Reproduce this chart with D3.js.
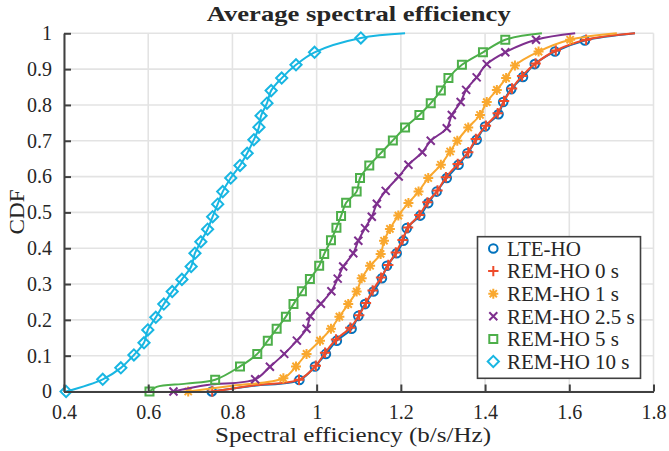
<!DOCTYPE html>
<html><head><meta charset="utf-8">
<script src="https://cdn.jsdelivr.net/npm/d3@7"></script>
<style>
html,body{margin:0;padding:0;background:#fff;}
svg text{font-family:'Liberation Serif','Times New Roman',Tinos,Times,serif;fill:#262626;}
</style></head>
<body>
<svg id="chart" width="669" height="451"></svg>
<script>
// ---- data (x = spectral efficiency, y = CDF, m = 1 if a marker sits on the point) ----
const xTicks = [0.4, 0.6, 0.8, 1, 1.2, 1.4, 1.6, 1.8];
const yTicks = [0, 0.1, 0.2, 0.3, 0.4, 0.5, 0.6, 0.7, 0.8, 0.9, 1];
const seriesNames = ["LTE-HO", "REM-HO 0 s", "REM-HO 1 s", "REM-HO 2.5 s", "REM-HO 5 s", "REM-HO 10 s"];

const lteHO = [[0.751,0,1],[0.85,0.016,0],[0.959,0.032,1],[0.996,0.070,1],[1.022,0.105,1],[1.048,0.142,1],[1.083,0.175,1],[1.099,0.211,1],[1.115,0.244,1],[1.135,0.279,1],[1.155,0.316,1],[1.167,0.351,1],[1.190,0.386,1],[1.206,0.421,1],[1.214,0.456,1],[1.246,0.491,1],[1.265,0.526,1],[1.285,0.558,1],[1.309,0.596,1],[1.337,0.633,1],[1.358,0.665,1],[1.380,0.703,1],[1.400,0.740,1],[1.432,0.774,1],[1.443,0.808,1],[1.462,0.844,1],[1.490,0.878,1],[1.518,0.914,1],[1.566,0.949,1],[1.637,0.980,1],[1.756,1.0,0]];
const remHO0 = [[0.752,0,1],[0.85,0.017,0],[0.958,0.033,1],[0.998,0.072,1],[1.020,0.108,1],[1.046,0.145,1],[1.080,0.178,1],[1.101,0.213,1],[1.117,0.247,1],[1.133,0.282,1],[1.153,0.318,1],[1.170,0.353,1],[1.188,0.388,1],[1.204,0.423,1],[1.217,0.458,1],[1.244,0.493,1],[1.263,0.528,1],[1.287,0.561,1],[1.307,0.598,1],[1.335,0.635,1],[1.360,0.668,1],[1.378,0.705,1],[1.402,0.742,1],[1.430,0.777,1],[1.445,0.811,1],[1.464,0.846,1],[1.488,0.881,1],[1.520,0.916,1],[1.568,0.952,1],[1.640,0.982,1],[1.756,1.0,0]];
const remHO1 = [[0.695,0,1],[0.80,0.016,0],[0.921,0.037,1],[0.951,0.070,1],[0.976,0.105,1],[1.008,0.142,1],[1.034,0.175,1],[1.054,0.209,1],[1.075,0.244,1],[1.095,0.279,1],[1.107,0.316,1],[1.127,0.351,1],[1.152,0.384,1],[1.160,0.421,1],[1.174,0.454,1],[1.194,0.491,1],[1.218,0.526,1],[1.242,0.558,1],[1.265,0.596,1],[1.295,0.633,1],[1.317,0.670,1],[1.334,0.700,1],[1.360,0.737,1],[1.388,0.772,1],[1.404,0.808,1],[1.428,0.842,1],[1.450,0.875,1],[1.471,0.910,1],[1.527,0.949,1],[1.602,0.982,1],[1.713,1.0,0]];
const remHO25 = [[0.660,0,1],[0.74,0.018,0],[0.854,0.034,1],[0.889,0.069,1],[0.923,0.105,1],[0.953,0.142,1],[0.976,0.175,1],[0.985,0.210,1],[1.010,0.245,1],[1.035,0.280,1],[1.050,0.315,1],[1.063,0.349,1],[1.087,0.386,1],[1.099,0.421,1],[1.115,0.456,1],[1.131,0.488,1],[1.143,0.524,1],[1.164,0.560,1],[1.195,0.600,1],[1.218,0.633,1],[1.251,0.668,1],[1.271,0.700,1],[1.309,0.735,1],[1.321,0.772,1],[1.342,0.808,1],[1.355,0.842,1],[1.380,0.877,1],[1.404,0.914,1],[1.448,0.947,1],[1.521,0.982,1],[1.614,1.0,0]];
const remHO5 = [[0.603,0,1],[0.62,0.013,0],[0.69,0.022,0],[0.759,0.033,1],[0.818,0.070,1],[0.859,0.105,1],[0.884,0.142,1],[0.905,0.175,1],[0.927,0.209,1],[0.945,0.244,1],[0.965,0.280,1],[0.984,0.314,1],[1.006,0.351,1],[1.018,0.384,1],[1.034,0.422,1],[1.047,0.457,1],[1.058,0.490,1],[1.070,0.527,1],[1.095,0.558,1],[1.103,0.596,1],[1.125,0.631,1],[1.152,0.665,1],[1.181,0.701,1],[1.210,0.737,1],[1.244,0.772,1],[1.271,0.805,1],[1.295,0.840,1],[1.313,0.875,1],[1.345,0.912,1],[1.395,0.947,1],[1.448,0.982,1],[1.535,1.0,0]];
const remHO10 = [[0.405,0,1],[0.492,0.034,1],[0.535,0.066,1],[0.566,0.102,1],[0.590,0.136,1],[0.599,0.172,1],[0.618,0.207,1],[0.637,0.244,1],[0.657,0.279,1],[0.680,0.313,1],[0.702,0.349,1],[0.711,0.386,1],[0.725,0.418,1],[0.741,0.453,1],[0.753,0.488,1],[0.765,0.523,1],[0.777,0.558,1],[0.796,0.596,1],[0.818,0.631,1],[0.835,0.665,1],[0.851,0.703,1],[0.863,0.738,1],[0.868,0.770,1],[0.882,0.805,1],[0.892,0.840,1],[0.917,0.875,1],[0.951,0.912,1],[0.995,0.947,1],[1.105,0.987,1],[1.21,1.0,0]];

const seriesData = [lteHO, remHO0, remHO1, remHO25, remHO5, remHO10];
const colors = ["#0072BD", "#EE4B2B", "#F9A82F", "#7E2F8E", "#4DAF4A", "#18B6E2"];
const markerTypes = ["circle", "plus", "asterisk", "times", "square", "diamond"];

// ---- layout ----
const svg = d3.select("#chart");
const L = 64, R = 653.5, T = 33.3, B = 391.5;
const x = d3.scaleLinear().domain([0.4, 1.8]).range([L, R]);
const y = d3.scaleLinear().domain([0, 1]).range([B, T]);

// grid
const grid = svg.append("g");
grid.selectAll("line.vx").data(xTicks).join("line")
  .attr("x1", d => x(d)).attr("x2", d => x(d)).attr("y1", T).attr("y2", B)
  .attr("stroke", "#e3e3e3").attr("stroke-width", 1.6);
grid.selectAll("line.hy").data(yTicks).join("line")
  .attr("x1", L).attr("x2", R).attr("y1", d => y(d)).attr("y2", d => y(d))
  .attr("stroke", "#e3e3e3").attr("stroke-width", 1.6);

// marker path builder
function markerPath(type, cx, cy) {
  const p = d3.path();
  if (type === "circle") { p.moveTo(cx + 4.3, cy); p.arc(cx, cy, 4.3, 0, 2 * Math.PI); }
  else if (type === "plus") { const a = 5.2; p.moveTo(cx - a, cy); p.lineTo(cx + a, cy); p.moveTo(cx, cy - a); p.lineTo(cx, cy + a); }
  else if (type === "times") { const a = 4; p.moveTo(cx - a, cy - a); p.lineTo(cx + a, cy + a); p.moveTo(cx - a, cy + a); p.lineTo(cx + a, cy - a); }
  else if (type === "asterisk") { const a = 5, b = 3.6; p.moveTo(cx - a, cy); p.lineTo(cx + a, cy); p.moveTo(cx, cy - a); p.lineTo(cx, cy + a);
    p.moveTo(cx - b, cy - b); p.lineTo(cx + b, cy + b); p.moveTo(cx - b, cy + b); p.lineTo(cx + b, cy - b); }
  else if (type === "square") { const a = 4; p.rect(cx - a, cy - a, 2 * a, 2 * a); }
  else if (type === "diamond") { const a = 5.6; p.moveTo(cx, cy - a); p.lineTo(cx + a, cy); p.lineTo(cx, cy + a); p.lineTo(cx - a, cy); p.closePath(); }
  return p.toString();
}

// series
const line = d3.line().x(d => x(d[0])).y(d => y(d[1])).curve(d3.curveCatmullRom.alpha(0.5));
const plot = svg.append("g");
seriesData.forEach((data, i) => {
  const g = plot.append("g");
  g.append("path").datum(data).attr("d", line)
    .attr("fill", "none").attr("stroke", colors[i]).attr("stroke-width", 2);
  g.selectAll("path.m").data(data.filter(d => d[2] === 1)).join("path")
    .attr("class", "m")
    .attr("d", d => markerPath(markerTypes[i], x(d[0]), y(d[1])))
    .attr("fill", "none").attr("stroke", colors[i]).attr("stroke-width", 2);
});

// axes
const ax = svg.append("g").attr("transform", `translate(0,${B})`)
  .call(d3.axisBottom(x).tickValues(xTicks).tickFormat(d3.format("~g")).tickSizeInner(-7).tickSizeOuter(0).tickPadding(11));
const ay = svg.append("g").attr("transform", `translate(${L},0)`)
  .call(d3.axisLeft(y).tickValues(yTicks).tickFormat(d3.format("~g")).tickSizeInner(-7).tickSizeOuter(0).tickPadding(12));
[ax, ay].forEach(a => {
  a.attr("font-family", null);
  a.select(".domain").attr("stroke", "#404040").attr("stroke-width", 2);
  a.selectAll(".tick line").attr("stroke", "#404040").attr("stroke-width", 2);
  a.selectAll(".tick text").attr("font-size", 20).attr("fill", "#262626");
});
ax.selectAll(".tick text").attr("dy", "0.8em");

// titles
svg.append("text").attr("x", (L + R) / 2).attr("y", 21).attr("text-anchor", "middle")
  .attr("font-size", 21).attr("font-weight", "bold").attr("textLength", 304).attr("lengthAdjust", "spacingAndGlyphs")
  .text("Average spectral efficiency");
svg.append("text").attr("x", 353).attr("y", 442).attr("text-anchor", "middle")
  .attr("font-size", 22).attr("textLength", 276).attr("lengthAdjust", "spacingAndGlyphs")
  .text("Spectral efficiency (b/s/Hz)");
svg.append("text").attr("transform", "translate(24,212) rotate(-90)").attr("text-anchor", "middle")
  .attr("font-size", 22).attr("textLength", 45).attr("lengthAdjust", "spacingAndGlyphs")
  .text("CDF");

// legend
const lg = svg.append("g");
lg.append("rect").attr("x", 477.5).attr("y", 236.7).attr("width", 163).attr("height", 141.6)
  .attr("fill", "#fff").attr("stroke", "#404040").attr("stroke-width", 1.6);
seriesNames.forEach((name, i) => {
  const cy = 248.5 + i * 22.6;
  lg.append("path").attr("d", markerPath(markerTypes[i], 493.3, cy))
    .attr("fill", "none").attr("stroke", colors[i]).attr("stroke-width", 2);
  lg.append("text").attr("x", 507).attr("y", cy).attr("dy", "0.35em")
    .attr("font-size", 21).text(name);
});
</script>
</body></html>
